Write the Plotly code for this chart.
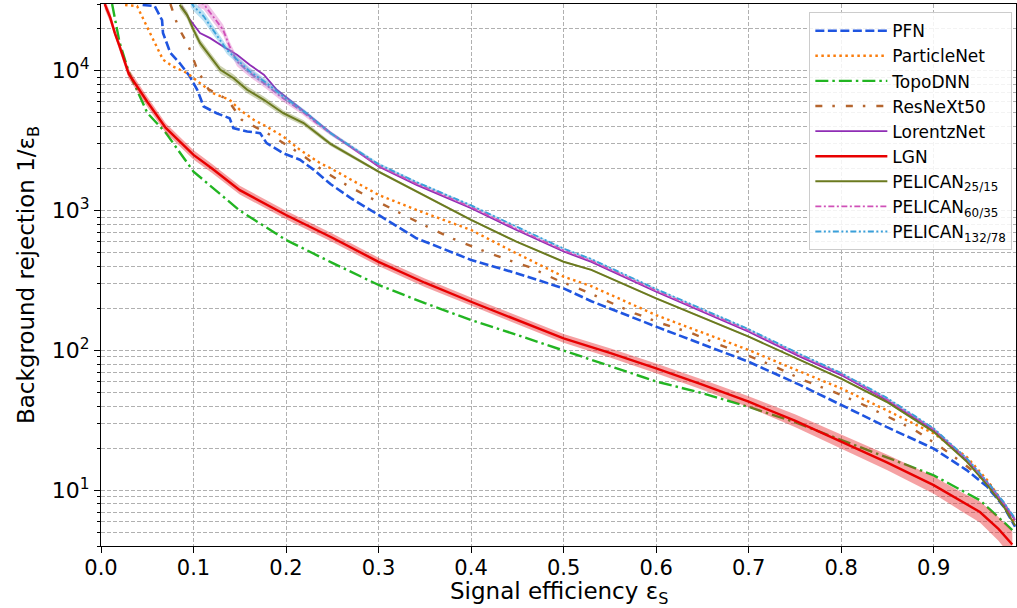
import numpy as np
import plotly.graph_objects as go

# ---------------- data ----------------
pfn_x = [0.045, 0.058, 0.066, 0.067, 0.075, 0.085, 0.096, 0.104, 0.111, 0.125, 0.139, 0.143,
         0.158, 0.172, 0.179, 0.197, 0.215, 0.23, 0.248, 0.27, 0.3, 0.341, 0.4, 0.449, 0.5, 0.53,
         0.6, 0.7, 0.756, 0.8, 0.849, 0.9, 0.936, 0.958, 0.976, 0.988]
pfn_y = [29500, 29000, 23000, 18600, 13400, 11350, 9100, 7300, 5550, 4970, 4580, 3890,
         3680, 3580, 3035, 2575, 2310, 1955, 1550, 1228, 931, 634, 444, 357, 278, 225,
         148, 83, 56.5, 40.6, 28.4, 19.9, 13.9, 10.6, 7.6, 5.5]

pnet_x = [0.026, 0.039, 0.053, 0.060, 0.067, 0.078, 0.093, 0.107, 0.121, 0.139, 0.15, 0.165,
          0.179, 0.197, 0.215, 0.237, 0.248, 0.3, 0.341, 0.4, 0.449, 0.5, 0.53, 0.6, 0.7,
          0.756, 0.8, 0.849, 0.9, 0.936, 0.958, 0.976, 0.988]
pnet_y = [29500, 29000, 18600, 14900, 12000, 10700, 9620, 8160, 6920, 6200, 5260, 4460,
          3990, 3385, 2720, 2180, 2010, 1295, 1011, 727, 495, 337, 288, 179, 100.7,
          70.5, 53.6, 37.4, 25.5, 17.3, 11.8, 8.0, 5.8]

topo_x = [0.012, 0.02, 0.03, 0.05, 0.07, 0.1, 0.15, 0.2, 0.25, 0.3, 0.35, 0.4, 0.45, 0.5,
          0.55, 0.6, 0.65, 0.7, 0.75, 0.8, 0.85, 0.9, 0.95, 0.97, 0.985]
topo_y = [30000, 16000, 9800, 5000, 3600, 1900, 1000, 617, 423, 294, 218, 165, 129, 100,
          77, 60, 49.5, 39.5, 30.7, 22.9, 17, 12.8, 8.5, 6.45, 5.2]

resnext_x = [0.075, 0.078, 0.082, 0.087, 0.094, 0.104, 0.116, 0.137, 0.152, 0.186, 0.217, 0.239,
             0.262, 0.285, 0.309, 0.332, 0.356, 0.381, 0.408, 0.435, 0.464, 0.493, 0.521, 0.548,
             0.577, 0.606, 0.639, 0.669, 0.698, 0.729, 0.759, 0.792, 0.821, 0.851, 0.88, 0.907,
             0.932, 0.961, 0.979, 0.988]
resnext_y = [30000, 25900, 21900, 18600, 15350, 10200, 7400, 6200, 4460, 3390, 2510, 1955,
             1570, 1295, 1070, 897, 748, 627, 532, 456, 393, 319, 269, 223,
             184.5, 156, 132.5, 109.4, 92.7, 76.4, 61.4, 50.6, 41.8, 33.5, 26.9, 20.5,
             15.6, 10.9, 7.2, 5.8]

lorentz_x = [0.087, 0.096, 0.107, 0.118, 0.132, 0.147, 0.161, 0.176, 0.19, 0.204, 0.222, 0.248,
             0.3, 0.341, 0.4, 0.449, 0.5, 0.53, 0.6, 0.7, 0.756, 0.8, 0.849, 0.9, 0.936, 0.958,
             0.976, 0.988]
lorentz_y = [29000, 23200, 18600, 17100, 14900, 13000, 11000, 9360, 7310, 6200, 4970, 3600,
             2065, 1528, 1040, 727, 510, 430, 263, 136, 90, 66.7, 44.2, 26.9, 16.4, 11.2,
             8.0, 6.1]

lgn_x = [0.004, 0.01, 0.015, 0.02, 0.03, 0.05, 0.07, 0.1, 0.12, 0.15, 0.2, 0.25, 0.3, 0.35,
         0.4, 0.45, 0.5, 0.55, 0.6, 0.65, 0.7, 0.75, 0.8, 0.85, 0.9, 0.93, 0.95, 0.97, 0.985]
lgn_y = [30000, 24000, 18500, 15000, 9500, 6000, 3900, 2500, 2000, 1400, 930, 640, 430, 305,
         223, 165, 122, 96, 74.5, 57, 43, 31.5, 22.2, 15.8, 10.9, 8.3, 7.0, 5.3, 4.1]
lgn_band = [0.035, 0.035, 0.035, 0.035, 0.035, 0.035, 0.034, 0.033, 0.032, 0.031, 0.03, 0.03,
            0.03, 0.03, 0.03, 0.031, 0.032, 0.033, 0.035, 0.037, 0.04, 0.045, 0.05, 0.055,
            0.062, 0.068, 0.075, 0.085, 0.095]

p25_x = [0.085, 0.093, 0.1, 0.107, 0.118, 0.129, 0.143, 0.158, 0.176, 0.197, 0.219, 0.248,
         0.3, 0.341, 0.4, 0.449, 0.5, 0.53, 0.6, 0.7, 0.756, 0.8, 0.849, 0.9, 0.936, 0.958,
         0.976, 0.988]
p25_y = [29600, 25100, 19600, 15800, 12660, 10160, 8880, 7310, 6200, 4970, 4230, 3000,
         1900, 1368, 857, 600, 431, 377, 236, 125.5, 85, 63, 43, 26.2, 16, 10.9,
         7.6, 5.6]
p25_band = [0.03, 0.03, 0.03, 0.03, 0.028, 0.028, 0.026, 0.025, 0.024, 0.022, 0.02, 0.016,
            0.01, 0.008, 0.007, 0.006, 0.006, 0.006, 0.006, 0.006, 0.006, 0.006, 0.006, 0.006,
            0.006, 0.006, 0.006, 0.006]

p60_x = [0.105, 0.111, 0.121, 0.132, 0.139, 0.147, 0.161, 0.176, 0.194, 0.215, 0.233, 0.248,
         0.3, 0.341, 0.4, 0.449, 0.5, 0.53, 0.6, 0.7, 0.756, 0.8, 0.849, 0.9, 0.936, 0.958,
         0.976, 0.988]
p60_y = [31000, 30000, 24500, 19600, 14900, 11660, 9620, 8160, 6550, 5260, 4230, 3580,
         2100, 1560, 1060, 742, 520, 438, 268, 139, 92, 68, 45, 27.4, 16.7, 11.4,
         8.1, 6.2]
p60_band = [0.04, 0.04, 0.04, 0.038, 0.036, 0.034, 0.03, 0.028, 0.025, 0.022, 0.018, 0.015,
            0.01, 0.008, 0.007, 0.006, 0.006, 0.006, 0.006, 0.006, 0.006, 0.006, 0.006, 0.006,
            0.006, 0.006, 0.006, 0.006]

p132_x = [0.097, 0.1, 0.111, 0.121, 0.129, 0.136, 0.147, 0.161, 0.179, 0.197, 0.222, 0.248,
          0.3, 0.341, 0.4, 0.449, 0.5, 0.53, 0.6, 0.7, 0.756, 0.8, 0.849, 0.9, 0.936, 0.958,
          0.976, 0.988]
p132_y = [31000, 29000, 24500, 19600, 16700, 14100, 12000, 9880, 8160, 6550, 4970, 3580,
          2150, 1600, 1090, 765, 535, 450, 275, 142, 94, 69, 46, 27.8, 16.9, 11.5,
          8.2, 6.3]
p132_band = [0.035, 0.035, 0.035, 0.033, 0.032, 0.03, 0.028, 0.026, 0.024, 0.02, 0.016, 0.013,
             0.009, 0.008, 0.007, 0.006, 0.006, 0.006, 0.006, 0.006, 0.006, 0.006, 0.006, 0.006,
             0.006, 0.006, 0.006, 0.006]

x_ticks = [0.0, 0.1, 0.2, 0.3, 0.4, 0.5, 0.6, 0.7, 0.8, 0.9]
y_ticks = [10, 100, 1000, 10000]
y_ticktext = ["10<sup>1</sup>", "10<sup>2</sup>", "10<sup>3</sup>", "10<sup>4</sup>"]
y_minor = [m * 10 ** e for e in range(0, 5) for m in range(2, 10) if 4 <= m * 10 ** e <= 30000]

# ---------------- figure ----------------
FONT = "DejaVu Sans"
fig = go.Figure()


def add_band(x, y, band, fillcolor):
    y = np.asarray(y, float)
    b = np.asarray(band, float)
    up = y * 10 ** b
    lo = y / 10 ** b
    xs = list(x) + list(x)[::-1]
    ys = list(up) + list(lo)[::-1]
    fig.add_trace(go.Scatter(x=xs, y=ys, fill="toself", fillcolor=fillcolor,
                             line=dict(width=0), mode="lines", hoverinfo="skip",
                             showlegend=False))


def add_line(x, y, name, color, dash, width):
    fig.add_trace(go.Scatter(x=x, y=y, mode="lines", name=name,
                             line=dict(color=color, dash=dash, width=width)))


add_line(pfn_x, pfn_y, "PFN", "#1f55e0", "9px,3.5px", 2.6)
add_line(pnet_x, pnet_y, "ParticleNet", "#fb7d0c", "2.5px,3.5px", 2.4)
add_line(topo_x, topo_y, "TopoDNN", "#22b522", "13px,4px,2.5px,4px", 2.4)
add_line(resnext_x, resnext_y, "ResNeXt50", "#b5652e", "7px,10px,2.5px,11px", 2.4)
add_line(lorentz_x, lorentz_y, "LorentzNet", "#8f2db5", "solid", 1.8)
add_band(lgn_x, lgn_y, lgn_band, "rgba(232,30,35,0.42)")
add_line(lgn_x, lgn_y, "LGN", "#e80000", "solid", 2.4)
add_band(p25_x, p25_y, p25_band, "rgba(110,125,30,0.35)")
add_line(p25_x, p25_y, "PELICAN<sub>25/15</sub>", "#6b7a1f", "solid", 2.0)
add_band(p60_x, p60_y, p60_band, "rgba(215,85,190,0.35)")
add_line(p60_x, p60_y, "PELICAN<sub>60/35</sub>", "#d050b8", "6px,2.5px,2px,2.5px", 1.8)
add_band(p132_x, p132_y, p132_band, "rgba(60,165,220,0.35)")
add_line(p132_x, p132_y, "PELICAN<sub>132/78</sub>", "#3aa0da",
         "6px,2.5px,2px,2.5px,2px,2.5px", 1.8)

grid = dict(showgrid=True, gridcolor="#b0b0b0", gridwidth=1, griddash="4px,2px")

fig.update_layout(
    width=1017, height=608,
    margin=dict(l=101, r=1, t=4, b=62, autoexpand=False),
    paper_bgcolor="white", plot_bgcolor="white",
    font=dict(family=FONT, color="black", size=22),
    showlegend=True,
    legend=dict(x=0.996, y=0.985, xanchor="right", yanchor="top",
                bgcolor="rgba(255,255,255,0.85)", bordercolor="#cccccc", borderwidth=1,
                font=dict(family=FONT, size=17, color="black"),
                tracegroupgap=0, itemwidth=72),
)
fig.update_xaxes(
    range=[0, 0.989], tickvals=x_ticks, tickformat=".1f",
    ticks="outside", ticklen=6, tickwidth=1, tickcolor="black",
    showline=True, linecolor="black", linewidth=1.2, mirror=True,
    tickfont=dict(size=21), zeroline=False, automargin=False,
    ticklabelstandoff=-3,
    **grid,
)
fig.update_yaxes(
    type="log", range=[np.log10(4), np.log10(30000)],
    tickvals=y_ticks, ticktext=y_ticktext,
    ticks="outside", ticklen=6, tickwidth=1, tickcolor="black",
    showline=True, linecolor="black", linewidth=1.2, mirror=True,
    tickfont=dict(size=22), zeroline=False, automargin=False,
    minor=dict(tickvals=y_minor, ticks="outside", ticklen=3, tickcolor="black",
               showgrid=True, gridcolor="#b0b0b0", gridwidth=1, griddash="4px,2px"),
    title=dict(text="Background rejection 1/ε<sub>B</sub>", font=dict(size=23), standoff=10),
    **grid,
)
# x-axis title placed as a real text annotation for exact vertical position
fig.add_annotation(text="Signal efficiency ε<sub>S</sub>", xref="paper", yref="paper",
                   x=0.5, y=0, yanchor="middle", yshift=-47, showarrow=False,
                   font=dict(family=FONT, size=23, color="black"))

fig.write_html("out.html", config={"displayModeBar": False},
               post_script="document.body.style.margin='0';document.body.style.padding='0';")
